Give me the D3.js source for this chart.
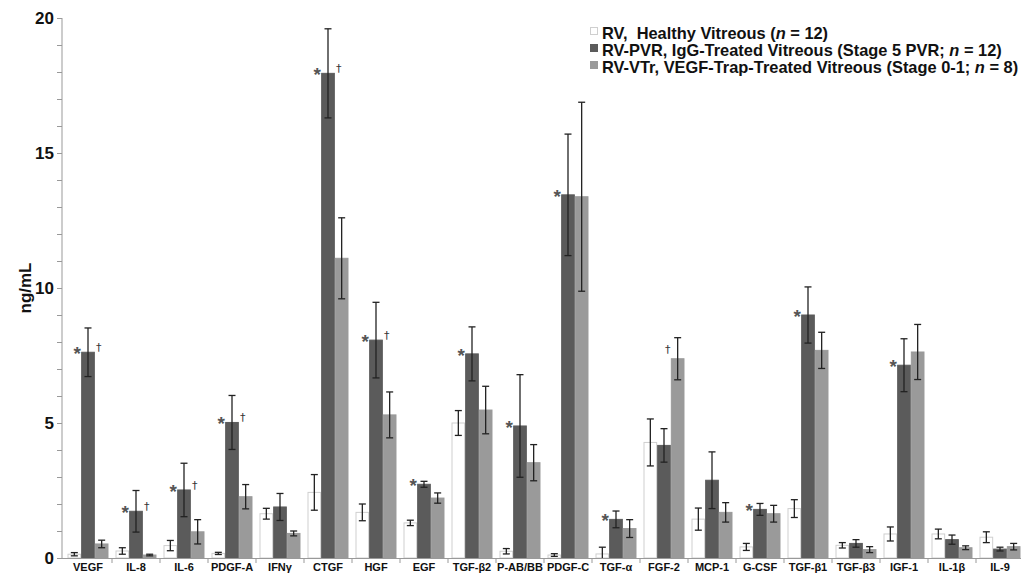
<!DOCTYPE html>
<html><head><meta charset="utf-8">
<script src="https://cdn.jsdelivr.net/npm/d3@7"></script>
<style>
body{margin:0;background:#fff;}
svg{display:block;font-family:"Liberation Sans",Arial,sans-serif;}
</style></head>
<body>
<svg id="chart" width="1021" height="574"></svg>
<script>
const categories = ["VEGF","IL-8","IL-6","PDGF-A","IFNγ","CTGF","HGF","EGF","TGF-β2","P-AB/BB","PDGF-C","TGF-α","FGF-2","MCP-1","G-CSF","TGF-β1","TGF-β3","IGF-1","IL-1β","IL-9"];
const seriesNames = ["RV,  Healthy Vitreous (n = 12)","RV-PVR, IgG-Treated Vitreous (Stage 5 PVR; n = 12)","RV-VTr, VEGF-Trap-Treated Vitreous (Stage 0-1; n = 8)"];
const healthy     = [0.14,0.26,0.46,0.17,1.64,2.43,1.69,1.30,5.00,0.25,0.11,0.15,4.28,1.44,0.41,1.83,0.47,0.89,0.89,0.77];
const healthyErr  = [0.06,0.12,0.19,0.04,0.20,0.66,0.31,0.10,0.46,0.10,0.05,0.25,0.87,0.41,0.13,0.33,0.10,0.26,0.18,0.20];
const pvr         = [7.62,1.73,2.52,5.02,1.89,17.95,8.07,2.73,7.56,4.89,13.45,1.43,4.17,2.88,1.80,9.00,0.54,7.14,0.68,0.33];
const pvrErr      = [0.90,0.77,0.99,1.00,0.50,1.65,1.40,0.11,1.00,1.90,2.25,0.31,0.62,1.05,0.22,1.04,0.14,0.98,0.17,0.07];
const vtr         = [0.52,0.11,0.97,2.27,0.91,11.10,5.30,2.22,5.48,3.53,13.38,1.09,7.38,1.69,1.64,7.69,0.31,7.63,0.38,0.42];
const vtrErr      = [0.14,0.03,0.45,0.45,0.09,1.50,0.85,0.19,0.88,0.67,3.50,0.33,0.78,0.36,0.31,0.67,0.11,1.02,0.07,0.12];
const starOn      = ["VEGF","IL-8","IL-6","PDGF-A","CTGF","HGF","EGF","TGF-β2","P-AB/BB","PDGF-C","TGF-α","G-CSF","TGF-β1","IGF-1"];
const daggerOnPvr = ["VEGF","IL-8","IL-6","PDGF-A","CTGF","HGF"];
const daggerOnVtr = ["FGF-2"];
const yTicks = [0,5,10,15,20];

const fills = ["#ffffff","#5b5b5b","#9a9a9a"];
const strokes = ["#cfcfcf","#5b5b5b","#9a9a9a"];

const svg = d3.select("#chart");
const y = d3.scaleLinear().domain([0,20]).range([558,18]);
const x = d3.scaleBand().domain(categories).range([64,1024]).paddingInner(0.146).paddingOuter(0.073);
const xs = d3.scaleBand().domain([0,1,2]).range([0,x.bandwidth()]);

const series = [
  {vals:healthy, err:healthyErr},
  {vals:pvr, err:pvrErr},
  {vals:vtr, err:vtrErr}
];

// bars
series.forEach((s,si)=>{
  const g = svg.append("g");
  g.selectAll("rect").data(categories).join("rect")
    .attr("x", c=>x(c)+xs(si)+0.5)
    .attr("y", (c,i)=>y(s.vals[i]))
    .attr("width", xs.bandwidth()-1)
    .attr("height", (c,i)=>y(0)-y(s.vals[i]))
    .attr("fill", fills[si])
    .attr("stroke", strokes[si])
    .attr("stroke-width", 1);
});

// error bars
series.forEach((s,si)=>{
  const g = svg.append("g").attr("stroke","#222").attr("stroke-width",1.3);
  categories.forEach((c,i)=>{
    const cx = x(c)+xs(si)+xs.bandwidth()/2;
    const lo = Math.max(0, s.vals[i]-s.err[i]);
    const hi = s.vals[i]+s.err[i];
    g.append("line").attr("x1",cx).attr("x2",cx).attr("y1",y(lo)).attr("y2",y(hi));
    g.append("line").attr("x1",cx-3.5).attr("x2",cx+3.5).attr("y1",y(hi)).attr("y2",y(hi));
    if (s.vals[i]-s.err[i] > 0)
      g.append("line").attr("x1",cx-3.5).attr("x2",cx+3.5).attr("y1",y(lo)).attr("y2",y(lo));
  });
});

// significance marks
starOn.forEach(c=>{
  const i = categories.indexOf(c);
  svg.append("text").attr("x", x(c)+xs(1)-4).attr("y", y(pvr[i])+8)
    .attr("text-anchor","middle").attr("font-size",19).attr("font-weight","bold").attr("fill","#555").text("*");
});
daggerOnPvr.forEach(c=>{
  const i = categories.indexOf(c);
  svg.append("text").attr("x", x(c)+xs(2)+4).attr("y", y(pvr[i])-1)
    .attr("text-anchor","middle").attr("font-size",11).attr("font-family","'DejaVu Sans',sans-serif").attr("fill","#333").text("†");
});
daggerOnVtr.forEach(c=>{
  const i = categories.indexOf(c);
  svg.append("text").attr("x", x(c)+xs(2)-3).attr("y", y(vtr[i])-6)
    .attr("text-anchor","middle").attr("font-size",11).attr("font-family","'DejaVu Sans',sans-serif").attr("fill","#333").text("†");
});

// y axis
const yAxis = d3.axisLeft(y).tickValues(d3.range(0,21,1)).tickSize(5).tickFormat(d=>yTicks.includes(d)?d:"");
const ya = svg.append("g").attr("transform","translate(62,0)").call(yAxis);
ya.select(".domain").attr("stroke","#999").attr("d","M0,558V18");
ya.selectAll(".tick line").attr("stroke","#999");
ya.selectAll(".tick text").attr("font-size",17).attr("font-weight","bold").attr("fill","#111")
  .attr("font-family","'Liberation Sans',Arial,sans-serif").attr("x",-8);

svg.append("text").attr("transform","translate(31,288) rotate(-90)").attr("text-anchor","middle")
  .attr("font-size",17).attr("font-weight","bold").attr("fill","#111").text("ng/mL");

// x axis
svg.append("line").attr("x1",62).attr("x2",1021).attr("y1",558.5).attr("y2",558.5).attr("stroke","#999");
svg.append("g").selectAll("line").data(categories.slice(1)).join("line")
  .attr("x1",c=>x(c)-x.step()*x.paddingInner()/2).attr("x2",c=>x(c)-x.step()*x.paddingInner()/2)
  .attr("y1",558).attr("y2",563).attr("stroke","#999");
svg.append("g").selectAll("text").data(categories).join("text")
  .attr("x",c=>x(c)+x.bandwidth()/2).attr("y",571)
  .attr("text-anchor","middle").attr("font-size",11).attr("font-weight","bold").attr("fill","#111")
  .text(d=>d);

// legend
const leg = svg.append("g");
seriesNames.forEach((name,si)=>{
  const ly = 33 + si*17;
  leg.append("rect").attr("x",590.5).attr("y",ly-5.5).attr("width",7).attr("height",7)
    .attr("fill",fills[si]).attr("stroke",strokes[si]);
  const t = leg.append("text").attr("x",602).attr("y",ly+5.5).attr("font-size",16.4).attr("font-weight","bold")
    .attr("fill","#111").style("white-space","pre");
  const parts = name.split(/(\bn\b)/);
  parts.forEach(p=>{
    const ts = t.append("tspan").text(p);
    if (p==="n") ts.attr("font-style","italic");
  });
});
</script>
</body></html>
